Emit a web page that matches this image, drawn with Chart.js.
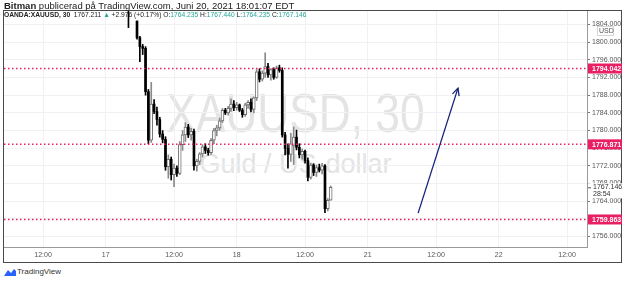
<!DOCTYPE html>
<html>
<head>
<meta charset="utf-8">
<script src="https://cdn.jsdelivr.net/npm/chart.js@4.4.0/dist/chart.umd.min.js"></script>
<style>
  html, body { margin: 0; padding: 0; background: #fff; }
  body { width: 625px; height: 283px; position: relative; overflow: hidden; font-family: "Liberation Sans", Arial, sans-serif; }
  #frame { position: absolute; left: 3px; top: 10px; width: 617px; height: 251px; border: 1px solid #4a4a4a; }
  .wm { position: absolute; left: 4px; width: 583px; text-align: center; color: #e4e4e4; white-space: nowrap; }
  #wm1 { top: 80px; font-size: 56px; transform: scaleX(0.79); }
  #wm2 { top: 149px; font-size: 27px; }
  #chart { position: absolute; left: 0; top: 0; z-index: 1; }
  .hdr { position: absolute; left: 4px; white-space: nowrap; color: #222; z-index: 2; }
  #h1 { top: 0px; font-size: 9.5px; }
  #h2 { top: 11px; font-size: 6.7px; }
  .g { color: #26a69a; }
  #logo { position: absolute; left: 4px; top: 267px; font-size: 8px; color: #333; }
  #logo svg { vertical-align: -2px; margin-right: 1px; }
</style>
</head>
<body>
<div id="frame"></div>
<div id="wm1" class="wm">XAUUSD, 30</div>
<div id="wm2" class="wm">Guld / US-dollar</div>
<div id="h1" class="hdr"><b>Bitman</b> publicerad på TradingView.com, Juni 20, 2021 18:01:07 EDT</div>
<div id="h2" class="hdr"><b>OANDA:XAUUSD, 30</b> &nbsp;1767.211 <span class="g">▲</span> +2.976 (+0.17%) O:<span class="g">1764.235</span> H:<span class="g">1767.440</span> L:<span class="g">1764.235</span> C:<span class="g">1767.146</span></div>
<canvas id="chart" width="625" height="283"></canvas>
<div id="logo"><svg width="12" height="8" viewBox="0 0 12 8"><path d="M0 8 L4 2 L7 5 L10 1 L12 3 L12 8 Z" fill="#2962ff"/></svg>TradingView</div>
<script>
// time axis: bar index (30 min bars) and its labels
const tickBars = [24, 46, 70, 92, 116, 138, 162, 184, 208];
const tickLabels = ["12:00", "17", "12:00", "18", "12:00", "21", "12:00", "22", "12:00"];
const priceTicks = [1756, 1760, 1764, 1768, 1772, 1776, 1780, 1784, 1788, 1792, 1796, 1800, 1804];

// candles, first one at bar 54
const firstBar = 54;
const opens = [1810.0, 1808.0, 1809.0, 1804.8, 1801.0, 1799.0, 1798.6, 1788.8, 1777.8, 1786.0,
  1784.3, 1782.5, 1779.2, 1778.0, 1771.8, 1773.5, 1770.0, 1771.5, 1770.3, 1776.8,
  1779.0, 1780.8, 1779.0, 1779.8, 1772.0, 1773.0, 1774.7, 1776.3, 1775.5, 1775.0,
  1777.8, 1780.0, 1780.6, 1782.2, 1784.6, 1784.0, 1785.0, 1786.0, 1785.2, 1785.8,
  1784.6, 1783.6, 1785.8, 1786.4, 1784.8, 1787.4, 1793.3, 1791.6, 1793.0, 1794.5,
  1792.6, 1793.8, 1792.0, 1794.2, 1793.6, 1779.0, 1776.0, 1774.6, 1776.5, 1778.5,
  1776.2, 1774.5, 1775.3, 1773.2, 1769.4, 1772.2, 1770.5, 1771.6, 1771.0, 1772.0,
  1762.3, 1764.235];
const highs = [1811.0, 1810.0, 1810.2, 1804.8, 1801.3, 1799.5, 1799.0, 1789.3, 1790.9, 1787.0,
  1785.3, 1783.0, 1780.0, 1778.6, 1774.5, 1774.0, 1772.4, 1772.0, 1777.5, 1780.0,
  1781.8, 1781.4, 1780.5, 1780.3, 1773.5, 1775.0, 1776.8, 1777.0, 1776.0, 1778.2,
  1780.5, 1781.2, 1782.8, 1785.0, 1785.0, 1785.5, 1787.2, 1786.8, 1786.4, 1786.0,
  1785.0, 1786.2, 1786.8, 1787.2, 1787.6, 1793.8, 1794.0, 1793.5, 1797.6, 1795.2,
  1794.0, 1794.2, 1794.6, 1794.8, 1794.2, 1779.6, 1777.0, 1779.4, 1780.8, 1780.1,
  1777.0, 1775.8, 1775.6, 1773.8, 1772.6, 1772.5, 1772.2, 1772.4, 1772.6, 1772.3,
  1764.6, 1767.44];
const lows = [1803.3, 1807.6, 1807.6, 1800.7, 1795.6, 1797.2, 1788.0, 1777.0, 1777.3, 1783.8,
  1781.2, 1778.5, 1777.2, 1771.0, 1769.2, 1768.8, 1767.3, 1769.6, 1770.0, 1775.5,
  1777.5, 1778.4, 1777.8, 1771.0, 1770.8, 1772.3, 1774.0, 1774.8, 1774.4, 1774.6,
  1777.0, 1778.8, 1780.0, 1781.8, 1783.6, 1783.5, 1784.3, 1784.5, 1784.6, 1784.3,
  1783.0, 1783.2, 1785.0, 1784.2, 1784.0, 1786.8, 1791.0, 1791.2, 1792.0, 1792.0,
  1791.4, 1791.6, 1791.8, 1793.2, 1778.5, 1774.5, 1771.5, 1773.0, 1772.3, 1775.6,
  1773.8, 1773.5, 1772.6, 1768.6, 1769.0, 1769.8, 1769.6, 1770.6, 1770.2, 1761.4,
  1761.8, 1764.235];
const closes = [1808.0, 1809.0, 1808.2, 1801.0, 1799.0, 1798.6, 1788.8, 1777.8, 1786.0, 1784.3,
  1782.5, 1779.2, 1778.0, 1771.8, 1773.5, 1770.0, 1771.5, 1770.3, 1776.8, 1779.0,
  1780.8, 1779.0, 1779.8, 1772.0, 1773.0, 1774.7, 1776.3, 1775.5, 1775.0, 1777.8,
  1780.0, 1780.6, 1782.2, 1784.6, 1784.0, 1785.0, 1786.0, 1785.2, 1785.8, 1784.6,
  1783.6, 1785.8, 1786.4, 1784.8, 1787.4, 1793.3, 1791.6, 1793.0, 1794.5, 1792.6,
  1793.8, 1792.0, 1794.2, 1793.6, 1779.0, 1776.0, 1774.6, 1777.0, 1778.5, 1776.2,
  1774.5, 1775.3, 1773.2, 1769.4, 1772.2, 1770.5, 1771.6, 1771.0, 1772.0, 1762.3,
  1764.2, 1767.146];

// horizontal levels drawn on the chart
const levelLines = [1794.042, 1776.871, 1759.863];
const lastPrice = 1767.146;
const countdown = "28:54";

// the hand drawn arrow (bar index, price)
const arrowX = [155.7, 169.7];
const arrowY = [1761.3, 1789.6];

const X_MIN = 10.3, X_MAX = 215.0;
const Y_MIN = 1753.63, Y_MAX = 1807.06;
const FONT = "Liberation Sans";
const LEVEL_COLOR = "#e91e63";
const ARROW_COLOR = "#15237a";

const up = closes.map((c, i) => c >= opens[i]);
const wicks = opens.map((o, i) => ({ x: firstBar + i, y: [lows[i], highs[i]] }));
const upBodies = [], downBodies = [];
opens.forEach((o, i) => {
    const pt = { x: firstBar + i, y: [o, closes[i]] };
    (up[i] ? upBodies : downBodies).push(pt);
});

const levelSets = levelLines.map(v => ({
    type: "line",
    data: [{ x: X_MIN, y: v }, { x: X_MAX, y: v }],
    borderColor: LEVEL_COLOR,
    borderWidth: 1.5,
    borderDash: [1.5, 2.5],
    pointRadius: 0,
    order: 2
}));

const overlay = {
    id: "overlay",
    afterDatasetsDraw(chart) {
        // arrow head
        const meta = chart.getDatasetMeta(chart.data.datasets.length - 1);
        const a = meta.data[0], b = meta.data[1];
        const ang = Math.atan2(b.y - a.y, b.x - a.x);
        const ctx = chart.ctx;
        ctx.save();
        ctx.strokeStyle = ARROW_COLOR;
        ctx.lineWidth = 1.3;
        ctx.beginPath();
        ctx.moveTo(b.x - 8 * Math.cos(ang - 0.45), b.y - 8 * Math.sin(ang - 0.45));
        ctx.lineTo(b.x, b.y);
        ctx.lineTo(b.x - 8 * Math.cos(ang + 0.45), b.y - 8 * Math.sin(ang + 0.45));
        ctx.stroke();
        ctx.restore();
    },
    afterDraw(chart) {
        const ctx = chart.ctx;
        const ys = chart.scales.y;
        const left = ys.left + 1, w = 34;
        ctx.save();
        ctx.font = "bold 7px " + FONT;
        ctx.textBaseline = "middle";
        ctx.textAlign = "left";
        levelLines.forEach(v => {
            const py = ys.getPixelForValue(v);
            ctx.fillStyle = LEVEL_COLOR;
            ctx.fillRect(left, py - 5, w, 10);
            ctx.fillStyle = "#fff";
            ctx.fillText(v.toFixed(3), left + 4, py + 0.5);
        });
        // last price + bar countdown
        const py = ys.getPixelForValue(lastPrice);
        ctx.fillStyle = "#fff";
        ctx.fillRect(left, py - 4, w, 15);
        ctx.fillStyle = "#333";
        ctx.font = "7px " + FONT;
        ctx.fillText(lastPrice.toFixed(3), left + 5, py);
        ctx.fillText(countdown, left + 5, py + 7);
        ctx.strokeStyle = "#555";
        ctx.beginPath();
        ctx.moveTo(left, py + 0.5);
        ctx.lineTo(left + 3, py + 0.5);
        ctx.stroke();
        // currency badge
        const by = chart.chartArea.top + 20;
        ctx.fillStyle = "#fff";
        ctx.fillRect(left + 9, by - 5, 17, 10);
        ctx.strokeStyle = "#d6d6d6";
        ctx.strokeRect(left + 9.5, by - 4.5, 16, 9);
        ctx.fillStyle = "#555";
        ctx.fillText("USD", left + 11, by + 0.5);
        ctx.restore();
    }
};

new Chart(document.getElementById("chart"), {
    type: "bar",
    data: {
        datasets: [
            {
                data: wicks,
                backgroundColor: up.map(u => u ? "#8a8a8a" : "#000"),
                barThickness: 1,
                grouped: false,
                order: 5
            },
            {
                data: upBodies,
                backgroundColor: "#fff",
                borderColor: "#6e6e6e",
                borderWidth: 1,
                borderSkipped: false,
                barThickness: 3,
                minBarLength: 2,
                grouped: false,
                order: 4
            },
            {
                data: downBodies,
                backgroundColor: "#000",
                barThickness: 2,
                minBarLength: 1,
                grouped: false,
                order: 3
            },
            ...levelSets,
            {
                type: "line",
                data: arrowX.map((x, i) => ({ x: x, y: arrowY[i] })),
                borderColor: ARROW_COLOR,
                borderWidth: 1.3,
                pointRadius: 0,
                order: 1
            }
        ]
    },
    options: {
        responsive: false,
        animation: false,
        layout: { padding: { left: 4, top: 11, right: 3, bottom: 21 } },
        plugins: { legend: { display: false }, tooltip: { enabled: false } },
        scales: {
            x: {
                type: "linear",
                min: X_MIN,
                max: X_MAX,
                offset: false,
                afterBuildTicks: s => { s.ticks = tickBars.map(v => ({ value: v })); },
                afterFit: s => { s.height = 15; },
                grid: { color: "#f0f1f4", offset: false, drawTicks: false },
                border: { color: "#9a9a9a" },
                ticks: {
                    autoSkip: false,
                    maxRotation: 0,
                    padding: 4,
                    color: "#555",
                    font: { size: 7, family: FONT },
                    callback: (v, i) => tickLabels[i]
                }
            },
            y: {
                position: "right",
                min: Y_MIN,
                max: Y_MAX,
                afterBuildTicks: s => { s.ticks = priceTicks.map(v => ({ value: v })); },
                afterFit: s => { s.width = 35; },
                grid: { color: "#f0f1f4", tickLength: 3, tickColor: "#777" },
                border: { color: "#9a9a9a" },
                ticks: {
                    padding: 2,
                    color: "#555",
                    font: { size: 7, family: FONT },
                    callback: v => v.toFixed(3)
                }
            }
        }
    },
    plugins: [overlay]
});
</script>
</body>
</html>
